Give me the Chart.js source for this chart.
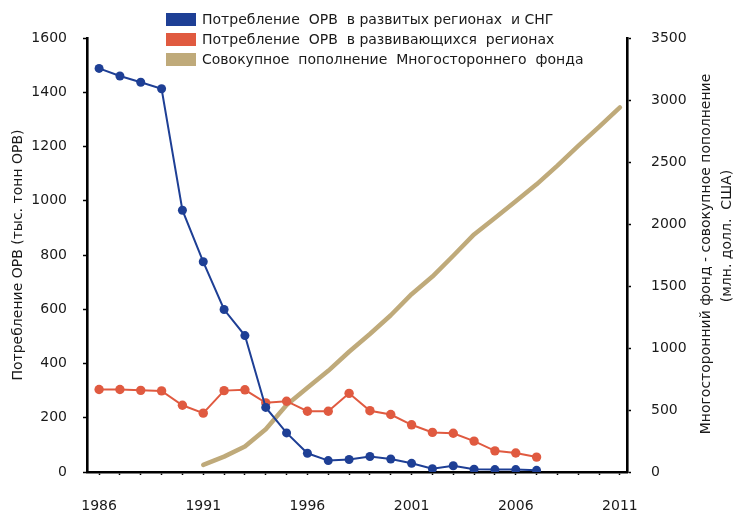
<!DOCTYPE html>
<html>
<head>
<meta charset="utf-8">
<script src="https://cdn.jsdelivr.net/npm/chart.js@4.4.1/dist/chart.umd.min.js"></script>
<style>
  html, body { margin: 0; padding: 0; background: #ffffff; }
  #wrap { width: 735px; height: 512px; position: relative; }
</style>
</head>
<body>
<div id="wrap"><canvas id="c" width="735" height="512"></canvas></div>
<script>
// ---- data ----
const years = [1986,1987,1988,1989,1990,1991,1992,1993,1994,1995,1996,1997,1998,1999,2000,2001,2002,2003,2004,2005,2006,2007];
const developedODS = [1488,1460,1437,1413,965,775,599,503,238,144,69,42,46,57,48,32,12,23,10,9,9,6];
const developingODS = [304,304,301,299,246,217,300,303,255,261,224,224,290,226,212,174,146,143,114,78,70,55];
const fundYears = [1991,1992,1993,1994,1995,1996,1997,1998,1999,2000,2001,2002,2003,2004,2005,2006,2007,2008,2009,2010,2011];
const fundTotal = [57,124,205,345,540,680,816,970,1113,1264,1434,1576,1744,1916,2049,2183,2320,2471,2630,2784,2940];
const xTickLabels = ['1986','1991','1996','2001','2006','2011'];
const leftTicks = ['0','200','400','600','800','1000','1200','1400','1600'];
const rightTicks = ['0','500','1000','1500','2000','2500','3000','3500'];
const seriesNames = [
  'Потребление  ОРВ  в развитых регионах  и СНГ',
  'Потребление  ОРВ  в развивающихся  регионах',
  'Совокупное  пополнение  Многостороннего  фонда'
];
const leftTitle = 'Потребление ОРВ (тыс. тонн ОРВ)';
const rightTitle = ['Многосторонний фонд - совокупное пополнение', '(млн. долл.  США)'];

// ---- styles ----
const COL_BLUE = '#1e3f95';
const COL_RED = '#e05a40';
const COL_TAN = '#bfaa7a';
const FONT = 'DejaVu Sans';
const TXT = '#1a1a1a';

const yearTicks = [];
for (let y = 1986; y <= 2011; y++) yearTicks.push(y);

const legendPlugin = {
  id: 'customLegend',
  afterDraw(chart) {
    const ctx = chart.ctx;
    ctx.save();
    const cols = [COL_BLUE, COL_RED, COL_TAN];
    ctx.font = '14px "' + FONT + '"';
    ctx.textBaseline = 'middle';
    ctx.textAlign = 'left';
    for (let i = 0; i < seriesNames.length; i++) {
      const y0 = 13 + i * 20;
      ctx.fillStyle = cols[i];
      ctx.fillRect(166, y0, 30, 13);
      ctx.fillStyle = TXT;
      ctx.fillText(seriesNames[i], 202, y0 + 7);
    }
    // right axis title (reads bottom to top)
    ctx.textAlign = 'center';
    ctx.textBaseline = 'middle';
    ctx.save();
    ctx.translate(706, 254);
    ctx.rotate(-Math.PI / 2);
    ctx.fillText(rightTitle[0], 0, 0);
    ctx.restore();
    ctx.save();
    ctx.translate(727, 236);
    ctx.rotate(-Math.PI / 2);
    ctx.fillText(rightTitle[1], 0, 0);
    ctx.restore();
    ctx.restore();
  }
};

const ds = [
  {
    label: seriesNames[0],
    data: years.map((y, i) => ({ x: y, y: developedODS[i] })),
    borderColor: COL_BLUE, backgroundColor: COL_BLUE,
    borderWidth: 2, pointRadius: 4.5, pointBorderWidth: 0, pointHoverRadius: 4.5,
    yAxisID: 'y'
  },
  {
    label: seriesNames[1],
    data: years.map((y, i) => ({ x: y, y: developingODS[i] })),
    borderColor: COL_RED, backgroundColor: COL_RED,
    borderWidth: 2, pointRadius: 4.7, pointBorderWidth: 0, pointHoverRadius: 4.7,
    yAxisID: 'y'
  },
  {
    label: seriesNames[2],
    data: fundYears.map((y, i) => ({ x: y, y: fundTotal[i] })),
    borderColor: COL_TAN, backgroundColor: COL_TAN,
    borderWidth: 4.5, pointRadius: 0, borderCapStyle: 'round', borderJoinStyle: 'round',
    yAxisID: 'y1'
  }
];

new Chart(document.getElementById('c'), {
  type: 'line',
  data: { datasets: ds },
  plugins: [legendPlugin],
  options: {
    responsive: false,
    animation: false,
    events: [],
    layout: { padding: { top: 38, left: 0, right: 0, bottom: 0 } },
    plugins: { legend: { display: false }, tooltip: { enabled: false } },
    scales: {
      x: {
        type: 'linear',
        min: 1985.42, max: 2011.34,
        afterBuildTicks: (s) => { s.ticks = yearTicks.map(v => ({ value: v })); },
        afterFit: (s) => { s.height = 40; },
        border: { display: true, color: '#000', width: 2.6 },
        grid: { display: true, drawOnChartArea: false, drawTicks: true, tickLength: 3, tickColor: '#000', tickWidth: 1.5 },
        ticks: {
          autoSkip: false, maxRotation: 0, padding: 23,
          color: TXT, font: { family: FONT, size: 14 },
          callback: (v) => xTickLabels.includes(String(v)) ? String(v) : ''
        }
      },
      y: {
        position: 'left',
        min: 0, max: 1600,
        afterBuildTicks: (s) => { s.ticks = leftTicks.map(v => ({ value: Number(v) })); },
        afterFit: (s) => { s.width = 87; },
        border: { display: true, color: '#000', width: 2.6 },
        grid: { display: true, drawOnChartArea: false, drawTicks: true, tickLength: 4, tickColor: '#000', tickWidth: 1.5 },
        ticks: { padding: 16, color: TXT, font: { family: FONT, size: 14 }, callback: (v) => String(v) },
        title: { display: true, text: leftTitle, color: TXT, font: { family: FONT, size: 14 }, padding: { top: 10, bottom: 0 } }
      },
      y1: {
        position: 'right',
        min: 0, max: 3500,
        afterBuildTicks: (s) => { s.ticks = rightTicks.map(v => ({ value: Number(v) })); },
        afterFit: (s) => { s.width = 108; },
        border: { display: true, color: '#000', width: 2.6 },
        grid: { display: true, drawOnChartArea: false, drawTicks: true, tickLength: 4, tickColor: '#000', tickWidth: 1.5 },
        ticks: { padding: 20, color: TXT, font: { family: FONT, size: 14 }, callback: (v) => String(v) }
      }
    }
  }
});
</script>
</body>
</html>
